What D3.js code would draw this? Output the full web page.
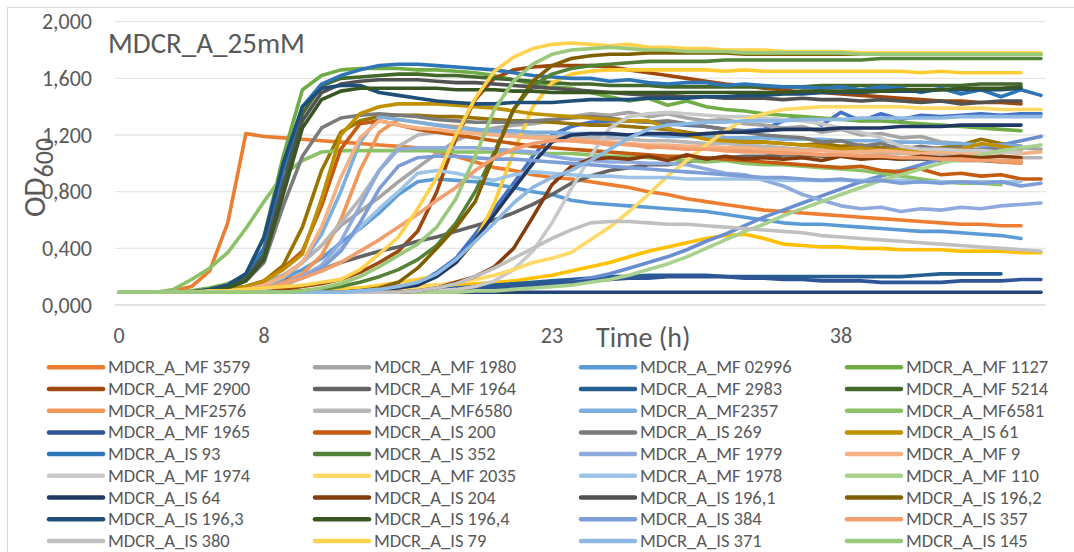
<!DOCTYPE html>
<html>
<head>
<meta charset="utf-8">
<script src="https://cdn.jsdelivr.net/npm/d3@7"></script>
<style>
  html, body { margin: 0; padding: 0; background: #ffffff; }
  svg { display: block; font-family: Carlito, Calibri, "Liberation Sans", Arial, sans-serif; }
</style>
</head>
<body>
<svg id="chart" width="1074" height="552"></svg>
<script>
// Sampling times (hours)
const hours = [0,1,2,3,4,5,6,7,8,9,10,11,12,13,14,15,16,17,18,19,20,21,22,23,24,25,26,27,28,29,30,31,32,33,34,35,36,37,38,39,40,41,42,43,44,45,46,47,48];

// Axis ticks
const yTicks = [0, 0.4, 0.8, 1.2, 1.6, 2.0];
const xTickHours = [0, 8, 23, 38];

// Series in plotting order; series without a legend entry are flagged false
const seriesNames = [
  "Series1", "MDCR_A_MF 3579", "MDCR_A_MF 1980", "Series4", "MDCR_A_MF 02996", "MDCR_A_MF 1127",
  "Series7", "MDCR_A_MF 2900", "MDCR_A_MF 1964", "Series10", "MDCR_A_MF 2983", "MDCR_A_MF 5214",
  "Series13", "MDCR_A_MF2576", "MDCR_A_MF6580", "Series16", "MDCR_A_MF2357", "MDCR_A_MF6581",
  "MDCR_A_MF 1965", "MDCR_A_IS 200", "MDCR_A_IS 269", "MDCR_A_IS 61", "MDCR_A_IS 93", "MDCR_A_IS 352",
  "MDCR_A_MF 1979", "MDCR_A_MF 9", "MDCR_A_MF 1974", "MDCR_A_MF 2035", "MDCR_A_MF 1978", "MDCR_A_MF 110",
  "MDCR_A_IS 64", "MDCR_A_IS 204", "MDCR_A_IS 196,1", "MDCR_A_IS 196,2", "MDCR_A_IS 196,3", "MDCR_A_IS 196,4",
  "MDCR_A_IS 384", "MDCR_A_IS 357", "MDCR_A_IS 380", "MDCR_A_IS 79", "MDCR_A_IS 371", "MDCR_A_IS 145"
];
const inLegend = [
  false, true, true, false, true, true,
  false, true, true, false, true, true,
  false, true, true, false, true, true,
  true, true, true, true, true, true,
  true, true, true, true, true, true,
  true, true, true, true, true, true,
  true, true, true, true, true, true
];
const seriesColors = [
  "#4472C4", "#ED7D31", "#A5A5A5", "#FFC000", "#5B9BD5", "#70AD47",
  "#264478", "#9E480E", "#636363", "#997300", "#255E91", "#43682B",
  "#698ED0", "#F1975A", "#B7B7B7", "#FFCD33", "#7CAFDD", "#8CC168",
  "#2F5597", "#C55A11", "#7B7B7B", "#BF9000", "#2E75B6", "#538135",
  "#8FAADC", "#F4B183", "#C9C9C9", "#FFD966", "#9DC3E6", "#A9D18E",
  "#203864", "#843C0C", "#525252", "#7F6000", "#1F4E79", "#385723",
  "#7D9DD6", "#F29F6F", "#C0C0C0", "#FFD24D", "#8DB9E2", "#9AC97B"
];

// OD600 readings, one value per hour
const odValues = [
  [.09,.09,.09,.09,.09,.09,.09,.09,.09,.09, .09,.10,.10,.11,.12,.13,.15,.23,.33,.50, .68,.86,1.05,1.20,1.26,1.29,1.30,1.30,1.29,1.28, 1.27,1.26,1.24,1.23,1.24,1.30,1.33,1.27,1.36,1.30, 1.35,1.31,1.34,1.33,1.34,1.35,1.34,1.35,1.35],
  [.09,.09,.09,.10,.13,.24,.58,1.21,1.19,1.18, 1.17,1.16,1.15,1.14,1.13,1.12,1.11,1.08,1.05,1.01, .97,.95,.92,.90,.89,.87,.85,.83,.80,.78, .75,.73,.71,.69,.67,.66,.65,.64,.63,.62, .61,.60,.59,.58,.57,.57,.56,.56],
  [.09,.09,.09,.09,.09,.10,.11,.13,.16,.21, .30,.42,.56,.66,.76,.87,.97,1.07,1.16,1.22, 1.25,1.27,1.28,1.30,1.33,1.35,1.34,1.36,1.33,1.35, 1.32,1.30,1.31,1.28,1.27,1.25,1.26,1.22,1.24,1.20, 1.21,1.18,1.19,1.15,1.14,1.12,1.13,1.11,1.10],
  [.09,.09,.09,.09,.09,.09,.09,.09,.10,.10, .10,.11,.11,.12,.12,.13,.13,.14,.14,.15, .16,.17,.19,.21,.24,.27,.30,.34,.38,.41, .44,.47,.49,.50,.47,.43,.42,.41,.41,.40, .40,.39,.39,.39,.38,.38,.38,.37,.37],
  [.09,.09,.09,.09,.09,.09,.10,.11,.14,.19, .25,.33,.44,.54,.65,.78,.87,.89,.88,.87, .85,.83,.80,.78,.74,.72,.71,.70,.69,.68, .67,.66,.64,.62,.60,.58,.57,.57,.56,.55, .54,.53,.52,.52,.51,.50,.49,.47],
  [.09,.09,.09,.09,.10,.12,.15,.21,.48,1.05, 1.52,1.62,1.66,1.67,1.67,1.67,1.66,1.66,1.65,1.64, 1.62,1.59,1.56,1.54,1.53,1.50,1.47,1.44,1.46,1.41, 1.44,1.40,1.38,1.37,1.35,1.34,1.33,1.32,1.31,1.30, 1.30,1.29,1.28,1.27,1.26,1.25,1.24,1.23],
  [.09,.09,.09,.09,.09,.09,.09,.09,.09,.09, .09,.09,.09,.09,.09,.09,.09,.09,.09,.09, .09,.09,.09,.09,.09,.09,.09,.09,.09,.09, .09,.09,.09,.09,.09,.09,.09,.09,.09,.09, .09,.09,.09,.09,.09,.09,.09,.09,.09],
  [.09,.09,.09,.09,.09,.09,.09,.09,.10,.11, .13,.15,.18,.23,.30,.38,.52,.80,1.18,1.45, 1.60,1.66,1.68,1.69,1.69,1.69,1.68,1.66,1.64,1.62, 1.60,1.58,1.56,1.55,1.53,1.52,1.50,1.50,1.49,1.48, 1.47,1.46,1.45,1.44,1.44,1.43,1.43,1.42],
  [.09,.09,.09,.09,.09,.09,.10,.12,.14,.17, .21,.25,.30,.34,.38,.41,.45,.48,.52,.56, .60,.65,.71,.78,.86,.91,.95,.97,.99,.99, 1.01,1.03,1.04,1.05,1.05,1.06,1.06,1.05,1.05,1.04, 1.04,1.03,1.03,1.02,1.02,1.02,1.01,1.01],
  [.09,.09,.09,.09,.09,.10,.11,.13,.17,.28, .55,.95,1.22,1.30,1.33,1.34,1.34,1.33,1.33,1.32, 1.31,1.30,1.30,1.29,1.28,1.27,1.27,1.26,1.25,1.24, 1.22,1.20,1.18,1.16,1.15,1.14,1.13,1.14,1.12,1.13, 1.11,1.12,1.10,1.11,1.13,1.17,1.14,1.12],
  [.09,.09,.09,.09,.09,.09,.09,.09,.09,.09, .09,.09,.09,.09,.09,.10,.10,.11,.12,.13, .14,.15,.16,.17,.18,.19,.20,.20,.21,.21, .21,.21,.20,.20,.20,.20,.20,.20,.20,.20, .20,.20,.21,.22,.22,.22,.22],
  [.09,.09,.09,.09,.09,.11,.13,.19,.40,.90, 1.35,1.55,1.60,1.61,1.62,1.63,1.63,1.62,1.62,1.61, 1.60,1.59,1.58,1.57,1.56,1.56,1.55,1.55,1.55,1.54, 1.54,1.54,1.54,1.54,1.54,1.54,1.54,1.55,1.55,1.55, 1.55,1.55,1.55,1.55,1.55,1.56,1.56,1.56],
  [.09,.09,.09,.09,.09,.09,.09,.09,.09,.09, .09,.09,.09,.09,.09,.09,.09,.10,.10,.11, .11,.12,.13,.14,.16,.19,.22,.26,.30,.34, .39,.45,.50,.56,.62,.67,.72,.77,.82,.87, .91,.95,.99,1.03,1.07,1.10,1.13,1.16,1.19],
  [.09,.09,.09,.09,.09,.09,.09,.10,.12,.16, .22,.35,.60,.95,1.22,1.31,1.29,1.27,1.26,1.24, 1.22,1.21,1.19,1.17,1.16,1.15,1.13,1.14,1.11,1.12, 1.10,1.11,1.09,1.10,1.08,1.09,1.07,1.06,1.07,1.05, 1.06,1.04,1.05,1.03,1.02,1.03,1.01,1.00],
  [.09,.09,.09,.09,.09,.09,.10,.11,.14,.20, .30,.42,.58,.75,.95,1.12,1.20,1.22,1.22,1.22, 1.21,1.21,1.20,1.19,1.19,1.18,1.18,1.17,1.16,1.16, 1.15,1.14,1.14,1.13,1.12,1.11,1.10,1.10,1.09,1.08, 1.08,1.07,1.07,1.06,1.06,1.05,1.05,1.04,1.04],
  [.09,.09,.09,.09,.09,.09,.09,.09,.09,.09, .09,.10,.11,.12,.14,.16,.18,.21,.30,.45, .72,1.08,1.40,1.57,1.63,1.65,1.66,1.66,1.66,1.66, 1.66,1.66,1.65,1.66,1.65,1.65,1.65,1.65,1.65,1.65, 1.65,1.65,1.64,1.65,1.64,1.64,1.64,1.64],
  [.09,.09,.09,.09,.09,.09,.09,.10,.13,.19, .30,.50,.80,1.15,1.33,1.31,1.29,1.27,1.25,1.24, 1.23,1.23,1.22,1.22,1.21,1.21,1.20,1.20,1.20,1.19, 1.19,1.19,1.18,1.18,1.18,1.17,1.17,1.17,1.16,1.16, 1.16,1.15,1.15,1.14,1.14,1.13,1.13,1.12],
  [.09,.09,.09,.11,.18,.26,.37,.54,.73,.92, 1.02,1.08,1.09,1.09,1.09,1.09,1.09,1.09,1.08,1.08, 1.08,1.08,1.07,1.07,1.07,1.06,1.05,1.05,1.04,1.03, 1.02,1.01,1.02,1.00,.99,.99,.98,.97,.96,.95, .93,.91,.89,.87,.86,.86,.85],
  [.09,.09,.09,.09,.09,.09,.09,.09,.09,.09, .09,.09,.09,.09,.09,.09,.09,.10,.10,.11, .12,.13,.14,.15,.16,.17,.18,.19,.19,.20, .20,.20,.20,.19,.19,.18,.18,.17,.17,.17, .16,.16,.16,.16,.17,.17,.17,.18,.18],
  [.09,.09,.09,.09,.09,.10,.11,.13,.17,.26, .38,.70,1.10,1.28,1.30,1.27,1.24,1.22,1.20,1.18, 1.16,1.14,1.12,1.11,1.10,1.09,1.08,1.07,1.06,1.05, 1.05,1.04,1.03,1.02,1.01,1.00,.99,.98,.97,.98, .95,.94,.96,.92,.93,.91,.92,.89,.89],
  [.09,.09,.09,.09,.09,.10,.12,.17,.30,.70, 1.05,1.25,1.32,1.34,1.35,1.34,1.33,1.31,1.30,1.29, 1.29,1.29,1.30,1.31,1.32,1.33,1.32,1.30,1.29,1.30, 1.28,1.26,1.24,1.22,1.20,1.19,1.18,1.15,1.16,1.12, 1.14,1.10,1.12,1.10,1.11,1.09,1.10,1.08],
  [.09,.09,.09,.09,.09,.10,.11,.13,.17,.25, .36,.75,1.20,1.35,1.40,1.42,1.42,1.42,1.41,1.40, 1.39,1.37,1.35,1.34,1.33,1.32,1.31,1.30,1.30,1.25, 1.20,1.17,1.16,1.15,1.15,1.14,1.13,1.12,1.10,1.11, 1.09,1.10,1.08,1.09,1.10,1.14,1.12,1.10],
  [.09,.09,.09,.09,.09,.11,.14,.22,.40,.95, 1.40,1.56,1.62,1.66,1.69,1.70,1.70,1.69,1.68,1.67, 1.66,1.64,1.62,1.61,1.60,1.60,1.58,1.59,1.57,1.56, 1.57,1.57,1.55,1.56,1.55,1.54,1.54,1.53,1.54,1.52, 1.54,1.53,1.50,1.53,1.49,1.52,1.47,1.52,1.48],
  [.09,.09,.09,.09,.09,.09,.09,.09,.09,.09, .10,.11,.13,.16,.20,.25,.32,.42,.58,.80, 1.08,1.38,1.55,1.63,1.67,1.69,1.70,1.71,1.72,1.72, 1.72,1.72,1.73,1.73,1.73,1.73,1.73,1.73,1.73,1.73, 1.74,1.74,1.74,1.74,1.74,1.74,1.74,1.74,1.74],
  [.09,.09,.09,.09,.09,.09,.09,.10,.12,.15, .20,.28,.45,.70,.95,1.10,1.11,1.11,1.11,1.11, 1.10,1.09,1.08,1.05,1.03,1.02,1.01,1.01,1.00,1.00, .99,.96,.93,.92,.88,.84,.78,.74,.70,.68, .69,.66,.68,.67,.69,.68,.70,.71,.72],
  [.09,.09,.09,.09,.09,.09,.10,.11,.14,.20, .30,.55,.90,1.18,1.30,1.27,1.25,1.24,1.22,1.21, 1.20,1.19,1.18,1.18,1.17,1.16,1.15,1.14,1.13,1.13, 1.12,1.12,1.11,1.11,1.10,1.10,1.09,1.09,1.08,1.08, 1.09,1.08,1.07,1.08,1.07,1.07,1.08,1.07,1.08],
  [.09,.09,.09,.09,.09,.09,.09,.09,.09,.09, .09,.09,.09,.09,.09,.09,.09,.10,.11,.13, .17,.25,.38,.58,.82,1.05,1.25,1.33,1.35,1.36, 1.35,1.34,1.33,1.33,1.32,1.31,1.30,1.28,1.25,1.22, 1.18,1.12,1.10,1.10,1.09,1.09,1.08,1.08],
  [.09,.09,.09,.09,.09,.09,.09,.09,.09,.09, .09,.09,.09,.09,.10,.11,.12,.14,.16,.18, .21,.25,.30,.33,.37,.46,.55,.66,.78,.91, 1.02,1.13,1.23,1.31,1.35,1.38,1.39,1.40,1.40,1.40, 1.40,1.40,1.39,1.39,1.39,1.39,1.38,1.38,1.38],
  [.09,.09,.09,.09,.09,.09,.09,.10,.12,.15, .19,.26,.40,.55,.68,.80,.93,.95,.93,.90, .88,.92,.94,.93,.92,.91,.91,.90,.90,.90, .89,.89,.89,.89,.89,.88,.88,.88,.88,.88, .88,.88,.87,.87,.87,.87,.87,.87],
  [.09,.09,.09,.09,.09,.09,.09,.09,.09,.09, .09,.09,.09,.09,.09,.09,.09,.09,.09,.10, .10,.11,.12,.13,.14,.16,.18,.21,.25,.29, .34,.40,.46,.52,.57,.63,.68,.73,.78,.83, .88,.92,.96,1.00,1.03,1.06,1.09,1.11,1.13],
  [.09,.09,.09,.09,.09,.09,.09,.09,.09,.09, .09,.09,.09,.10,.11,.12,.14,.20,.30,.46, .64,.82,1.00,1.15,1.20,1.21,1.21,1.20,1.21,1.21, 1.20,1.21,1.22,1.22,1.23,1.24,1.24,1.24,1.25,1.25, 1.25,1.26,1.26,1.26,1.27,1.27,1.27,1.27],
  [.09,.09,.09,.09,.09,.09,.09,.09,.09,.09, .09,.09,.09,.09,.09,.09,.10,.12,.16,.20, .27,.40,.62,.85,.98,1.03,1.04,1.03,1.05,1.02, 1.06,1.03,1.05,1.03,1.04,1.03,1.04,1.02,1.05,1.03, 1.04,1.03,1.05,1.04,1.05,1.04,1.05,1.04],
  [.09,.09,.09,.09,.09,.10,.13,.18,.35,.85, 1.30,1.50,1.56,1.58,1.59,1.59,1.59,1.58,1.57,1.57, 1.56,1.55,1.54,1.53,1.52,1.51,1.50,1.49,1.48,1.48, 1.47,1.47,1.46,1.46,1.46,1.45,1.46,1.45,1.45,1.44, 1.45,1.44,1.43,1.44,1.42,1.43,1.44,1.44],
  [.09,.09,.09,.09,.09,.09,.09,.09,.09,.09, .09,.09,.09,.10,.12,.16,.26,.40,.55,.73, 1.06,1.38,1.58,1.69,1.74,1.76,1.77,1.77,1.78,1.78, 1.78,1.78,1.78,1.77,1.77,1.77,1.77,1.77,1.77,1.77, 1.77,1.77,1.77,1.77,1.77,1.77,1.77,1.77,1.77],
  [.09,.09,.09,.09,.09,.11,.14,.22,.48,1.00, 1.40,1.53,1.55,1.55,1.50,1.48,1.46,1.44,1.43,1.42, 1.42,1.43,1.43,1.43,1.44,1.45,1.45,1.45,1.46,1.46, 1.46,1.47,1.47,1.48,1.48,1.49,1.49,1.50,1.50,1.50, 1.51,1.51,1.51,1.52,1.52,1.52,1.52,1.53],
  [.09,.09,.09,.09,.09,.10,.12,.17,.32,.78, 1.25,1.45,1.51,1.53,1.53,1.53,1.53,1.53,1.52,1.52, 1.52,1.51,1.51,1.50,1.50,1.50,1.50,1.50,1.50,1.50, 1.50,1.50,1.50,1.50,1.50,1.50,1.51,1.51,1.51,1.51, 1.51,1.52,1.52,1.52,1.53,1.53,1.53,1.54],
  [.09,.09,.09,.09,.09,.09,.09,.09,.11,.14, .19,.26,.38,.58,.82,.98,1.04,1.05,1.05,1.04, 1.03,1.03,1.02,1.01,1.00,.99,.98,.97,.96,.95, .94,.93,.92,.91,.90,.90,.89,.88,.89,.87, .88,.86,.87,.86,.87,.86,.87,.84,.86],
  [.09,.09,.09,.09,.09,.09,.09,.10,.12,.15, .19,.24,.30,.38,.46,.55,.64,.74,.83,.95, 1.04,1.10,1.14,1.16,1.16,1.15,1.14,1.13,1.12,1.11, 1.10,1.10,1.09,1.08,1.08,1.07,1.07,1.06,1.06,1.05, 1.05,1.04,1.04,1.03,1.03,1.02,1.02,1.02],
  [.09,.09,.09,.09,.09,.09,.09,.09,.09,.09, .09,.09,.09,.09,.09,.09,.10,.12,.15,.20, .26,.33,.40,.47,.53,.58,.59,.59,.58,.57, .57,.56,.55,.54,.53,.52,.51,.49,.48,.47, .46,.45,.44,.43,.42,.41,.40,.39,.38],
  [.09,.09,.09,.09,.09,.10,.10,.11,.12,.13, .14,.16,.18,.25,.36,.48,.68,.90,1.20,1.46, 1.65,1.75,1.81,1.84,1.85,1.84,1.83,1.84,1.82,1.82, 1.81,1.81,1.80,1.80,1.80,1.79,1.79,1.79,1.79,1.78, 1.78,1.78,1.78,1.78,1.78,1.78,1.78,1.78,1.78],
  [.09,.09,.09,.09,.09,.09,.09,.09,.09,.09, .09,.09,.09,.10,.11,.13,.16,.22,.32,.45, .58,.72,.83,.90,.95,1.02,1.10,1.18,1.24,1.27, 1.28,1.29,1.29,1.30,1.30,1.30,1.31,1.31,1.31,1.32, 1.32,1.32,1.32,1.32,1.33,1.33,1.33,1.33,1.33],
  [.09,.09,.09,.09,.09,.09,.09,.09,.09,.09, .10,.12,.15,.20,.27,.35,.43,.55,.75,1.05, 1.38,1.58,1.70,1.77,1.80,1.81,1.82,1.81,1.80,1.80, 1.79,1.79,1.79,1.78,1.78,1.78,1.78,1.78,1.78,1.77, 1.77,1.77,1.77,1.77,1.77,1.77,1.77,1.77,1.77]
];

const svg = d3.select("#chart");
const textColor = "#595959";
const fmt = d3.formatLocale({ decimal: ",", thousands: ".", grouping: [3], currency: ["", ""] }).format(".3f");

// Scales: the time axis is piecewise so the labelled hours land where the category labels sit
const x = d3.scaleLinear().domain([0, 8, 23, 38, 48]).range([119, 264, 552, 841, 1041]);
const y = d3.scaleLinear().domain([0, 2]).range([305, 21.7]);

// Outer chart border
svg.append("rect")
  .attr("x", 7.5).attr("y", 7.5).attr("width", 1100).attr("height", 600)
  .attr("fill", "none").attr("stroke", "#D9D9D9").attr("stroke-width", 1);

// Horizontal gridlines
svg.append("g").selectAll("line").data(yTicks).join("line")
  .attr("x1", 115).attr("x2", 1046)
  .attr("y1", d => y(d)).attr("y2", d => y(d))
  .attr("stroke", d => d === 0 ? "#D9D9D9" : "#E6E6E6")
  .attr("stroke-width", d => d === 0 ? 1.6 : 1.3);

// Y tick labels
svg.append("g").selectAll("text").data(yTicks).join("text")
  .attr("x", 92).attr("y", d => y(d) + 7.5)
  .attr("text-anchor", "end")
  .attr("font-size", 22).attr("fill", textColor)
  .text(d => fmt(d));

// X tick labels
svg.append("g").selectAll("text").data(xTickHours).join("text")
  .attr("x", d => x(d)).attr("y", 343)
  .attr("text-anchor", "middle")
  .attr("font-size", 22).attr("fill", textColor)
  .text(d => d);

// Growth curves
const line = d3.line()
  .x((d, i) => x(hours[i]))
  .y(d => y(d));

svg.append("g").selectAll("path").data(odValues).join("path")
  .attr("d", d => line(d))
  .attr("fill", "none")
  .attr("stroke", (d, i) => seriesColors[i])
  .attr("stroke-width", 3.6)
  .attr("stroke-linejoin", "round")
  .attr("stroke-linecap", "round");

// Chart title inside the plot
svg.append("text")
  .attr("x", 108).attr("y", 53)
  .attr("font-size", 29).attr("fill", textColor)
  .text("MDCR_A_25mM");

// Axis titles
svg.append("text")
  .attr("x", 596).attr("y", 347)
  .attr("font-size", 28).attr("fill", textColor)
  .text("Time (h)");

const yTitle = svg.append("text")
  .attr("transform", "translate(45,217) rotate(-90)")
  .attr("font-size", 31).attr("fill", textColor);
yTitle.append("tspan").text("OD");
yTitle.append("tspan").attr("dy", 8).attr("font-size", 26).text("600");

// Legend: four columns, row-major
const legendItems = seriesNames.map((n, i) => ({ name: n, color: seriesColors[i], show: inLegend[i] }))
  .filter(d => d.show);

const legend = svg.append("g").selectAll("g").data(legendItems).join("g")
  .attr("transform", (d, i) => `translate(${49 + 266 * (i % 4)},${367.3 + 21.7 * Math.floor(i / 4)})`);

legend.append("line")
  .attr("x1", 0).attr("x2", 54).attr("y1", 0).attr("y2", 0)
  .attr("stroke", d => d.color).attr("stroke-width", 4.5)
  .attr("stroke-linecap", "round");

legend.append("text")
  .attr("x", 59).attr("y", 6)
  .attr("font-size", 18.5).attr("fill", textColor)
  .text(d => d.name);
</script>
</body>
</html>
